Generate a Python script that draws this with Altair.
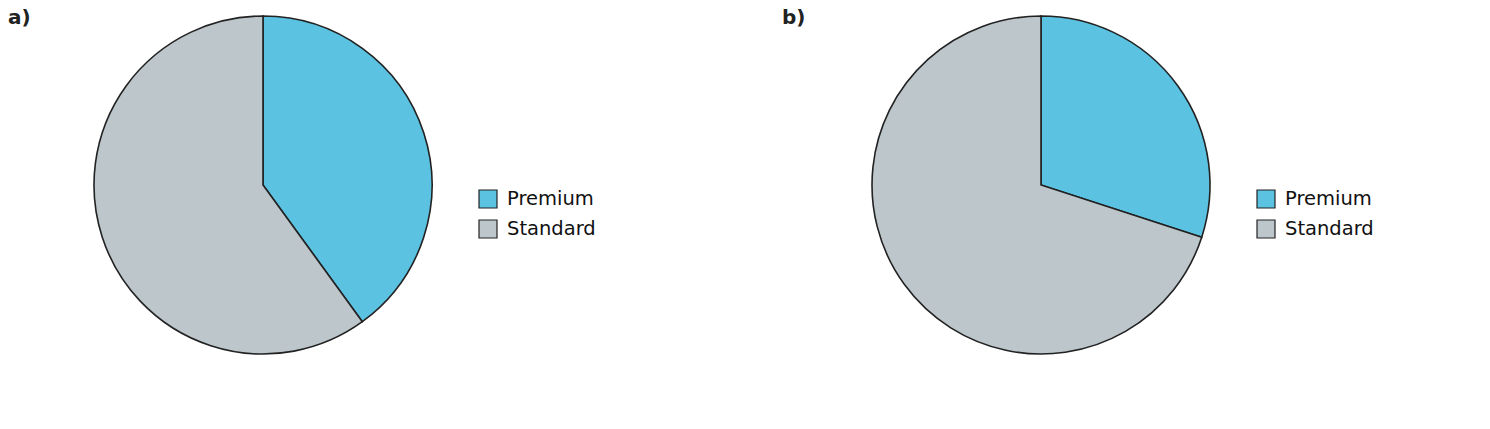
import altair as alt
import pandas as pd

categories = ["Premium", "Standard"]
values_a = [40, 60]
values_b = [30, 70]
panel_labels = ["a)", "b)"]
colors = ["#5BC2E2", "#BCC6CB"]

W = 510
H = 354
R = 169


def panel(vals, label, title_x):
    df = pd.DataFrame({"cat": categories, "val": vals, "ord": list(range(len(categories)))})
    base = alt.Chart(df)
    arc = base.mark_arc(radius=R, stroke="#222222", strokeWidth=1.6).encode(
        theta=alt.Theta("val:Q", stack=True),
        order=alt.Order("ord:Q"),
        color=alt.Color(
            "cat:N",
            scale=alt.Scale(domain=categories, range=colors),
            legend=alt.Legend(
                title=None,
                orient="none",
                legendX=470,
                legendY=181,
                symbolType="square",
                symbolSize=324,
                symbolStrokeColor="#222222",
                symbolStrokeWidth=1.2,
                labelFontSize=19.5,
                labelFont="DejaVu Sans",
                labelColor="#111111",
                labelOffset=9,
                rowPadding=6,
                padding=0,
            ),
        ),
    )
    title = alt.Chart(pd.DataFrame({"t": [label]})).mark_text(
        align="left", baseline="top", fontSize=20, fontWeight="bold",
        font="DejaVu Sans", color="#222222"
    ).encode(x=alt.value(title_x), y=alt.value(0), text="t:N")
    return alt.layer(arc, title).properties(width=W, height=H)


chart = alt.hconcat(
    panel(values_a, panel_labels[0], 0),
    panel(values_b, panel_labels[1], -4),
    spacing=186,
).resolve_scale(color="independent").resolve_legend(color="independent").properties(
    padding=0
).configure_view(stroke=None)

chart.save("out.html", embed_options={"renderer": "svg", "actions": False})
